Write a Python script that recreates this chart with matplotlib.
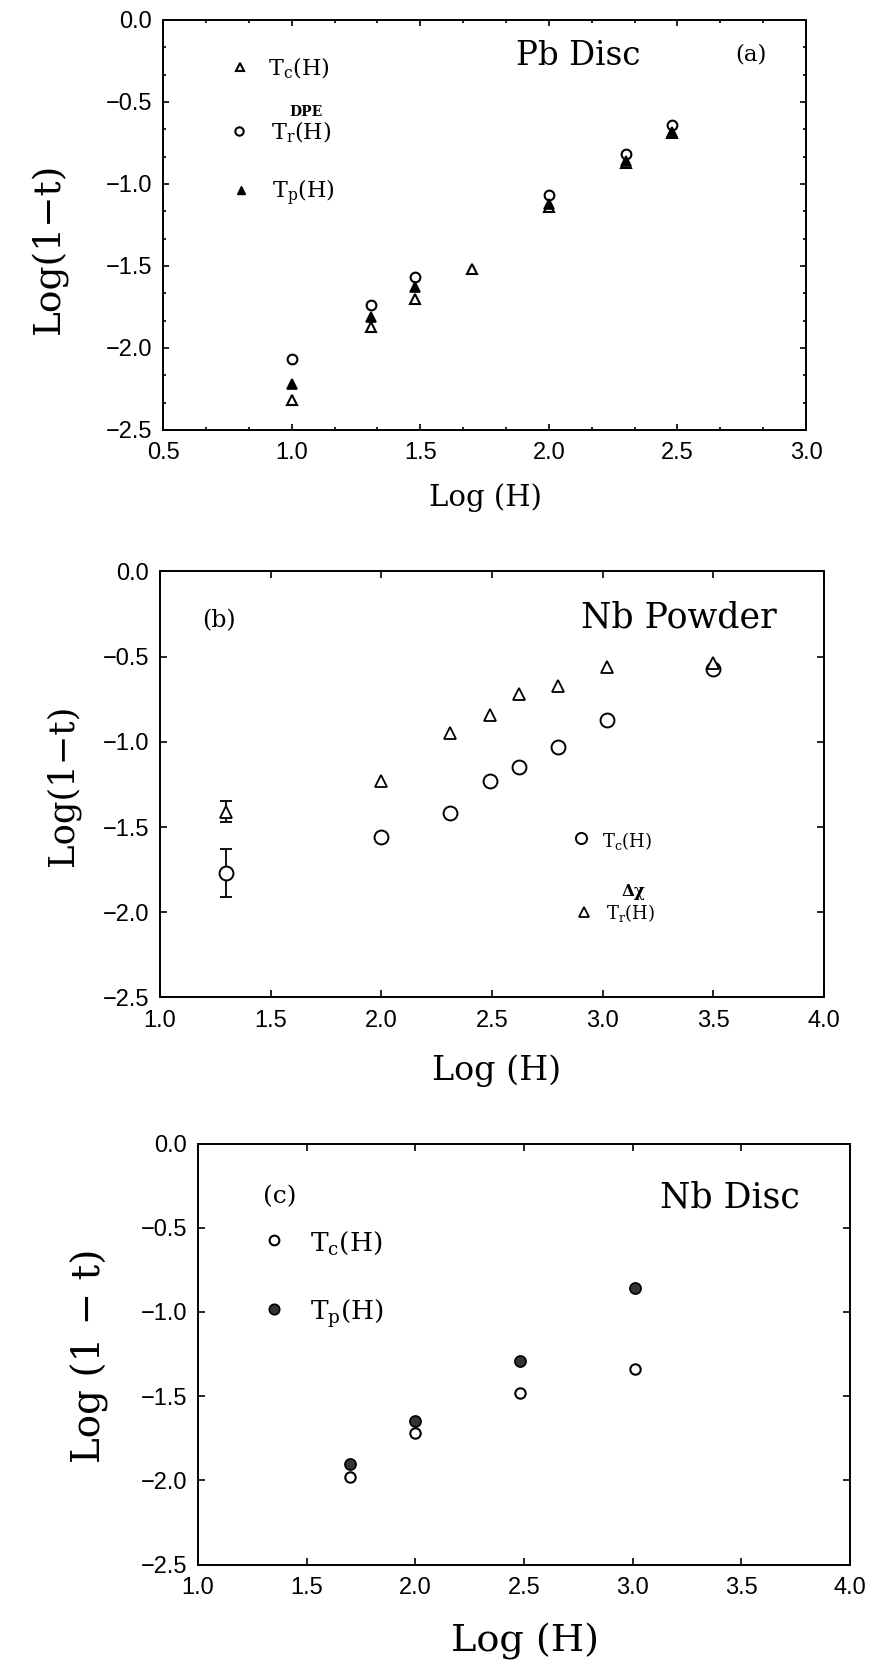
import matplotlib
matplotlib.use("Agg")
import matplotlib.pyplot as plt
from matplotlib.ticker import MultipleLocator, FuncFormatter

# Pb disc, panel (a)
pb_logH_c = [1.00, 1.31, 1.48, 1.70, 2.00, 2.30, 2.48]
pb_tc = [-2.32, -1.87, -1.70, -1.52, -1.14, -0.87, -0.69]
pb_logH_r = [1.00, 1.31, 1.48, 2.00, 2.30, 2.48]
pb_tr = [-2.07, -1.74, -1.57, -1.07, -0.82, -0.64]
pb_tp = [-2.22, -1.81, -1.63, -1.12, -0.86, -0.68]

# Nb powder, panel (b)
nbp_logH = [1.30, 2.00, 2.31, 2.49, 2.62, 2.80, 3.02, 3.50]
nbp_tc = [-1.77, -1.56, -1.42, -1.23, -1.15, -1.03, -0.87, -0.57]
nbp_tr = [-1.41, -1.23, -0.95, -0.84, -0.72, -0.675, -0.56, -0.535]
nbp_tc_err = [0.14, 0, 0, 0, 0, 0, 0, 0]
nbp_tr_err = [0.06, 0, 0, 0, 0, 0, 0, 0]

# Nb disc, panel (c)
nbd_logH = [1.70, 2.00, 2.48, 3.01]
nbd_tc = [-1.98, -1.72, -1.48, -1.34]
nbd_tp = [-1.90, -1.65, -1.29, -0.86]

plt.rcParams["font.family"] = "DejaVu Serif"
plt.rcParams["mathtext.fontset"] = "dejavuserif"

fmt = FuncFormatter(lambda v, p: f"{round(v, 2) + 0.0:.1f}".replace("-", "\u2212"))


def setup(ax, xmin, xmax, minor, major_len):
    ax.set_xlim(xmin, xmax)
    ax.set_ylim(-2.5, 0.0)
    ax.xaxis.set_major_locator(MultipleLocator(0.5))
    ax.yaxis.set_major_locator(MultipleLocator(0.5))
    if minor:
        ax.xaxis.set_minor_locator(MultipleLocator(0.5 / 3))
        ax.yaxis.set_minor_locator(MultipleLocator(0.5 / 3))
    ax.xaxis.set_major_formatter(fmt)
    ax.yaxis.set_major_formatter(fmt)
    ax.tick_params(which="both", direction="in", top=True, right=True,
                   labelsize=17, labelfontfamily="Liberation Sans", width=1.2)
    ax.tick_params(which="major", length=major_len)
    ax.tick_params(which="minor", length=2.5)
    ax.tick_params(axis="x", pad=9)
    ax.tick_params(axis="y", pad=8)
    for s in ax.spines.values():
        s.set_linewidth(1.4)


fig = plt.figure(figsize=(8.77, 16.66), dpi=100)

# ---- (a) Pb Disc
ax1 = fig.add_axes([0.1859, 0.7419, 0.7332, 0.2461])
setup(ax1, 0.5, 3.0, True, 4)
ax1.plot(pb_logH_c, pb_tc, ls="none", marker="^", ms=7, mfc="white", mec="k", mew=1.5)
ax1.plot(pb_logH_r, pb_tr, ls="none", marker="o", ms=7, mfc="white", mec="k", mew=1.5)
ax1.plot(pb_logH_r, pb_tp, ls="none", marker="^", ms=7, mfc="k", mec="k", mew=1.2)
tr = ax1.transAxes
ax1.plot([0.120], [0.885], transform=tr, marker="^", ms=6, mfc="white", mec="k", mew=1.5)
ax1.plot([0.118], [0.729], transform=tr, marker="o", ms=6, mfc="white", mec="k", mew=1.5)
ax1.plot([0.122], [0.585], transform=tr, marker="^", ms=6, mfc="k", mec="k")
ax1.text(0.164, 0.865, r"T$_{\rm c}$(H)", transform=tr, fontsize=16, va="baseline")
ax1.text(0.168, 0.709, r"T$_{\rm r}$(H)", transform=tr, fontsize=16, va="baseline")
ax1.text(0.222, 0.776, "DPE", transform=tr, fontsize=10, weight="bold", ha="center", va="center")
ax1.text(0.170, 0.565, r"T$_{\rm p}$(H)", transform=tr, fontsize=16, va="baseline")
ax1.text(0.645, 0.912, "Pb Disc", transform=tr, fontsize=23.5, ha="center", va="center")
ax1.text(0.915, 0.916, "(a)", transform=tr, fontsize=16.5, ha="center", va="center")
ax1.set_xlabel("Log (H)", fontsize=21, va="center")
ax1.xaxis.set_label_coords(0.501, -0.166)
ax1.set_ylabel("Log(1\u2212t)", fontsize=27, va="center")
ax1.yaxis.set_label_coords(-0.177, 0.442)

# ---- (b) Nb Powder
ax2 = fig.add_axes([0.1824, 0.4013, 0.7571, 0.2557])
setup(ax2, 1.0, 4.0, False, 5)
ax2.errorbar(nbp_logH[:1], nbp_tc[:1], yerr=nbp_tc_err[:1], fmt="none", ecolor="k",
             elinewidth=1.3, capsize=4, capthick=1.3)
ax2.errorbar(nbp_logH[:1], nbp_tr[:1], yerr=nbp_tr_err[:1], fmt="none", ecolor="k",
             elinewidth=1.3, capsize=4, capthick=1.3)
ax2.plot(nbp_logH, nbp_tc, ls="none", marker="o", ms=10, mfc="white", mec="k", mew=1.4)
ax2.plot(nbp_logH, nbp_tr, ls="none", marker="^", ms=9, mfc="white", mec="k", mew=1.3)
tr = ax2.transAxes
ax2.plot([0.634], [0.375], transform=tr, marker="o", ms=8, mfc="white", mec="k", mew=1.4)
ax2.plot([0.638], [0.201], transform=tr, marker="^", ms=7.5, mfc="white", mec="k", mew=1.3)
ax2.text(0.666, 0.352, r"T$_{\rm c}$(H)", transform=tr, fontsize=13, va="baseline")
ax2.text(0.713, 0.248, "\u0394\u03c7", transform=tr, fontsize=12, weight="bold",
         ha="center", va="center")
ax2.text(0.672, 0.183, r"T$_{\rm r}$(H)", transform=tr, fontsize=13, va="baseline")
ax2.text(0.781, 0.8915, "Nb Powder", transform=tr, fontsize=25, ha="center", va="center")
ax2.text(0.0895, 0.8834, "(b)", transform=tr, fontsize=17, ha="center", va="center")
ax2.set_xlabel("Log (H)", fontsize=24, va="center")
ax2.xaxis.set_label_coords(0.507, -0.173)
ax2.set_ylabel("Log(1\u2212t)", fontsize=25.5, va="center")
ax2.yaxis.set_label_coords(-0.146, 0.498)

# ---- (c) Nb Disc
ax3 = fig.add_axes([0.2258, 0.0609, 0.7434, 0.2527])
setup(ax3, 1.0, 4.0, False, 5)
ax3.plot(nbd_logH, nbd_tc, ls="none", marker="o", ms=7.5, mfc="white", mec="k", mew=1.5)
ax3.plot(nbd_logH, nbd_tp, ls="none", marker="o", ms=8, mfc="#333333", mec="k", mew=1.2)
tr = ax3.transAxes
ax3.plot([0.116], [0.770], transform=tr, marker="o", ms=7, mfc="white", mec="k", mew=1.5)
ax3.plot([0.116], [0.606], transform=tr, marker="o", ms=7.5, mfc="#333333", mec="k", mew=1.2)
ax3.text(0.172, 0.746, r"T$_{\rm c}$(H)", transform=tr, fontsize=19, va="baseline")
ax3.text(0.172, 0.582, r"T$_{\rm p}$(H)", transform=tr, fontsize=19, va="baseline")
ax3.text(0.125, 0.8729, "(c)", transform=tr, fontsize=18, ha="center", va="center")
ax3.text(0.8166, 0.8708, "Nb Disc", transform=tr, fontsize=25, ha="center", va="center")
ax3.set_xlabel("Log (H)", fontsize=27.5, va="center")
ax3.xaxis.set_label_coords(0.501, -0.182)
ax3.set_ylabel("Log (1 \u2212 t)", fontsize=28, va="center")
ax3.yaxis.set_label_coords(-0.166, 0.497)

fig.savefig("out.png", dpi=100)
